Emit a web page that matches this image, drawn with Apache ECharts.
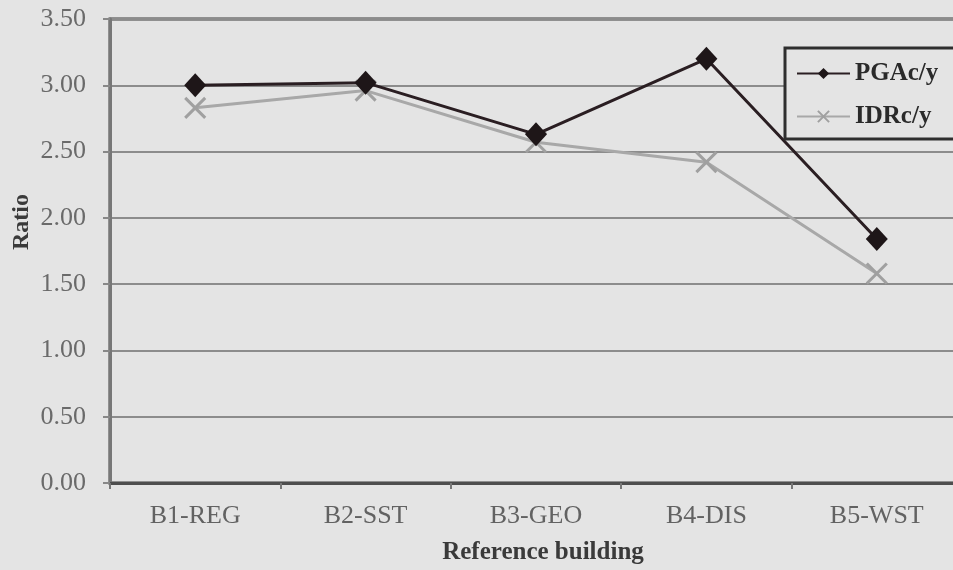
<!DOCTYPE html>
<html>
<head>
<meta charset="utf-8">
<script src="https://cdn.jsdelivr.net/npm/echarts@6/dist/echarts.min.js"></script>
<style>
  html, body { margin: 0; padding: 0; background: #e4e4e4; }
  #chart { width: 953px; height: 570px; }
</style>
</head>
<body>
<div id="chart"></div>
<script>
// Reference buildings and the two ratio series
const categories = ['B1-REG', 'B2-SST', 'B3-GEO', 'B4-DIS', 'B5-WST'];
const pgaRatio = [3.00, 3.02, 2.63, 3.20, 1.84];
const idrRatio = [2.83, 2.96, 2.57, 2.42, 1.58];
const yTicks = { min: 0, max: 3.5, interval: 0.5 };

const serif = '"Liberation Serif", "DejaVu Serif", serif';
const crossPath = 'path://M0,0 L10,10 M10,0 L0,10';

const chart = echarts.init(document.getElementById('chart'), null, { renderer: 'canvas' });

chart.setOption({
  backgroundColor: '#e4e4e4',
  animation: false,
  grid: {
    left: 110, top: 19, width: 852, height: 464,
    outerBoundsMode: 'none',
    show: true, borderColor: '#3c3c3c', borderWidth: 3, backgroundColor: 'transparent'
  },
  title: {
    text: 'Reference building',
    left: 538, top: 535, textAlign: 'center',
    textStyle: { fontFamily: serif, fontWeight: 'bold', fontSize: 25, color: '#3a3a3a' }
  },
  graphic: [{
    type: 'text',
    x: 22, y: 222,
    rotation: Math.PI / 2,
    style: {
      text: 'Ratio', font: 'bold 24px ' + serif, fill: '#3a3a3a',
      textAlign: 'center', textVerticalAlign: 'middle'
    }
  }],
  legend: {
    left: 785, top: 48,
    orient: 'vertical',
    padding: [13, 90, 10, 11],
    itemGap: 18,
    itemWidth: 53, itemHeight: 14,
    borderColor: '#2e2e2e', borderWidth: 3,
    backgroundColor: '#e4e4e4',
    textStyle: { fontFamily: serif, fontWeight: 'bold', fontSize: 25, color: '#2a2a2a', lineHeight: 24 },
    data: ['PGAc/y', 'IDRc/y']
  },
  xAxis: {
    type: 'category',
    data: categories,
    boundaryGap: true,
    axisLine: { lineStyle: { color: '#4e4e4e', width: 3 } },
    axisTick: { show: true, length: 6, lineStyle: { color: '#777', width: 2 } },
    axisLabel: { fontFamily: serif, fontSize: 26, color: '#626262', margin: 20 },
    splitLine: { show: false }
  },
  yAxis: {
    type: 'value',
    min: yTicks.min, max: yTicks.max, interval: yTicks.interval,
    axisLine: { show: true, lineStyle: { color: '#777', width: 3 } },
    axisTick: { show: true, length: 7, lineStyle: { color: '#888', width: 2 } },
    axisLabel: {
      fontFamily: serif, fontSize: 26, color: '#6a6a6a', margin: 24,
      formatter: v => v.toFixed(2)
    },
    splitLine: { lineStyle: { color: '#8c8c8c', width: 2 } }
  },
  series: [
    {
      name: 'PGAc/y',
      type: 'line',
      data: pgaRatio,
      z: 3,
      symbol: 'diamond',
      symbolSize: [22, 24],
      color: '#1e1618',
      lineStyle: { color: '#2a1e22', width: 3 },
      itemStyle: { color: '#1e1618' }
    },
    {
      name: 'IDRc/y',
      type: 'line',
      data: idrRatio,
      z: 2,
      symbol: crossPath,
      symbolSize: 20,
      color: '#a6a6a6',
      lineStyle: { color: '#a8a8a8', width: 3 },
      itemStyle: { color: 'rgba(0,0,0,0)', borderColor: '#a0a0a0', borderWidth: 3 }
    }
  ]
});
</script>
</body>
</html>
